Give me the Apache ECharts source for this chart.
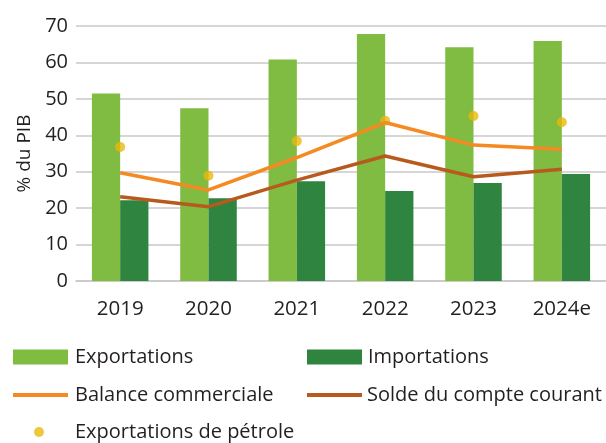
<!DOCTYPE html>
<html><head><meta charset="utf-8">
<script src="https://cdn.jsdelivr.net/npm/echarts@6/dist/echarts.min.js"></script>
<style>html,body{margin:0;padding:0;background:#fff}#c{width:606px;height:443px}</style>
</head><body><div id="c"></div>
<script>
var categories = ['2019','2020','2021','2022','2023','2024e'];
var exportations = [51.5, 47.4, 60.8, 67.8, 64.2, 65.9];
var importations = [22.2, 22.7, 27.4, 24.7, 26.9, 29.4];
var balanceCommerciale = [29.7, 25.0, 33.9, 43.5, 37.3, 36.2];
var soldeCompteCourant = [23.1, 20.4, 27.7, 34.3, 28.6, 30.7];
var exportationsPetrole = [36.8, 28.9, 38.4, 44.0, 45.3, 43.6];
var yTicks = {min: 0, max: 70, interval: 10};

var FONT = 'Open Sans';
var TXT = '#231f20';
var C_EXP = '#80bb42', C_IMP = '#2f843f', C_BAL = '#f58a22', C_SOL = '#b85a1d', C_PET = '#e8b90b';
function ts(size) { return {fontFamily: FONT, fontSize: size, color: TXT}; }

var chart = echarts.init(document.getElementById('c'), null, {renderer: 'canvas'});
function leg(name, left, top, icon, w, h, pad) {
  return {data: [name], left: left, top: top, icon: icon, itemWidth: w, itemHeight: h,
    itemGap: 0, padding: 0, selectedMode: false,
    textStyle: Object.assign({padding: [0, 0, 0, pad || 0]}, ts(20))};
}
chart.setOption({
  animation: false,
  grid: {left: 76, right: 0, top: 26, bottom: 162, containLabel: false},
  legend: [
    leg('Exportations', 13, 347, 'rect', 55, 15, 2),
    leg('Importations', 307, 347, 'rect', 55, 15, 1),
    leg('Balance commerciale', 13, 385, 'rect', 55, 4, 2),
    leg('Solde du compte courant', 307, 385, 'rect', 55, 4, 0),
    leg('Exportations de pétrole', 34, 422, 'circle', 10, 10, 26)
  ],
  xAxis: {
    type: 'category', data: categories,
    axisLine: {show: true, lineStyle: {color: '#c8c8c8', width: 1.5}},
    axisTick: {show: false},
    axisLabel: Object.assign({margin: 18}, ts(20.5))
  },
  yAxis: {
    type: 'value', min: yTicks.min, max: yTicks.max, interval: yTicks.interval,
    name: '% du PIB', nameLocation: 'middle', nameGap: 42, nameRotate: 90,
    nameTextStyle: ts(19),
    axisLine: {show: false}, axisTick: {show: false},
    axisLabel: Object.assign({margin: 8}, ts(20)),
    splitLine: {lineStyle: {color: '#c8c8c8', width: 1.5}}
  },
  series: [
    {name: 'Exportations', type: 'bar', data: exportations, itemStyle: {color: C_EXP},
      barGap: '0%', barCategoryGap: '36%'},
    {name: 'Importations', type: 'bar', data: importations, itemStyle: {color: C_IMP},
      barGap: '0%', barCategoryGap: '36%'},
    {name: 'Balance commerciale', type: 'line', data: balanceCommerciale, showSymbol: false,
      symbol: 'none', lineStyle: {color: C_BAL, width: 3.5}, itemStyle: {color: C_BAL}},
    {name: 'Solde du compte courant', type: 'line', data: soldeCompteCourant, showSymbol: false,
      symbol: 'none', lineStyle: {color: C_SOL, width: 3.5}, itemStyle: {color: C_SOL}},
    {name: 'Exportations de pétrole', type: 'scatter', data: exportationsPetrole,
      symbolSize: 10, itemStyle: {color: C_PET}}
  ]
});
</script></body></html>
